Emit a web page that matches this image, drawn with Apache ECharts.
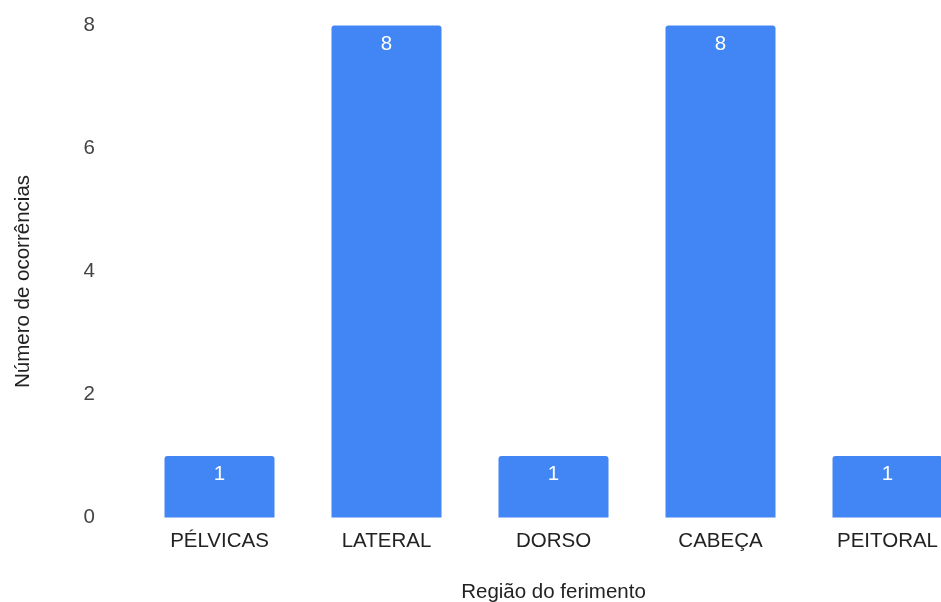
<!DOCTYPE html>
<html>
<head>
<meta charset="utf-8">
<script src="https://cdn.jsdelivr.net/npm/echarts@6/dist/echarts.min.js"></script>
<style>
  html, body { margin: 0; padding: 0; background: #fff; overflow: hidden; }
  /* the plot runs past the right edge of the window, so the canvas is wider */
  #chart { width: 1000px; height: 602px; }
</style>
</head>
<body>
<div id="chart"></div>
<script>
// Regiões do corpo e número de ocorrências
const categories = ['PÉLVICAS', 'LATERAL', 'DORSO', 'CABEÇA', 'PEITORAL'];
const occurrences = [1, 8, 1, 8, 1];
const yTicks = [0, 2, 4, 6, 8];

const fontFamily = '"Liberation Sans", Arial, sans-serif';
const fontSize = 20.5;

const chart = echarts.init(document.getElementById('chart'));
chart.setOption({
  animation: false,
  backgroundColor: '#ffffff',
  grid: {
    left: 136, top: 25.5, width: 835, bottom: 84.5,
    containLabel: false, outerBoundsMode: 'none'
  },
  xAxis: {
    type: 'category',
    data: categories,
    name: 'Região do ferimento',
    nameLocation: 'middle',
    nameGap: 64,
    nameTextStyle: { fontFamily, fontSize, color: '#222' },
    axisLine: { show: false },
    axisTick: { show: false },
    axisLabel: { fontFamily, fontSize, color: '#222', margin: 13 }
  },
  yAxis: {
    type: 'value',
    min: yTicks[0],
    max: yTicks[yTicks.length - 1],
    interval: yTicks[1] - yTicks[0],
    name: 'Número de ocorrências',
    nameLocation: 'middle',
    nameGap: 102,
    nameRotate: 90,
    nameTextStyle: { fontFamily, fontSize, color: '#222', padding: [0, 20, 0, 0] },
    splitLine: { show: false },
    axisLine: { show: false },
    axisTick: { show: false },
    axisLabel: { fontFamily, fontSize, color: '#444', margin: 41, padding: [4, 0, 0, 0] }
  },
  series: [{
    type: 'bar',
    data: occurrences,
    barWidth: 110,
    itemStyle: { color: '#4285f4', borderRadius: [3, 3, 0, 0] },
    label: {
      show: true,
      position: 'insideTop',
      distance: 8,
      color: '#ffffff',
      fontFamily,
      fontSize
    }
  }]
});
</script>
</body>
</html>
